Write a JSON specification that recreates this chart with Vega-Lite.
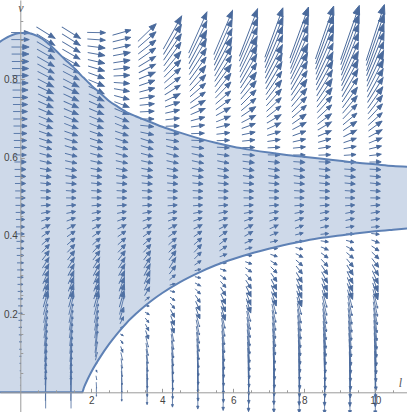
{
"$schema":"https://vega.github.io/schema/vega-lite/v6.json",
"width":407,"height":412,"padding":0,"autosize":{"type":"none"},
"config":{"view":{"stroke":null},"font":"Liberation Sans"},
"datasets":{
"field":[
{"l":0,"v":0,"a":0,"m":0},{"l":0,"v":0.018,"a":0,"m":0.4},{"l":0,"v":0.037,"a":0,"m":0.7},{"l":0,"v":0.055,"a":0,"m":1.1},{"l":0,"v":0.074,"a":0,"m":1.5},{"l":0,"v":0.092,"a":0,"m":1.8},{"l":0,"v":0.11,"a":0,"m":2.2},{"l":0,"v":0.129,"a":0,"m":2.6},{"l":0,"v":0.147,"a":0,"m":2.9},{"l":0,"v":0.166,"a":0,"m":3.3},{"l":0,"v":0.184,"a":0,"m":3.7},{"l":0,"v":0.202,"a":0,"m":4.1},{"l":0,"v":0.221,"a":0,"m":4.4},{"l":0,"v":0.239,"a":0,"m":4.8},{"l":0,"v":0.258,"a":0,"m":5.2},{"l":0,"v":0.276,"a":0,"m":5.5},{"l":0,"v":0.294,"a":0,"m":5.9},{"l":0,"v":0.313,"a":0,"m":6.3},{"l":0,"v":0.331,"a":0,"m":6.6},{"l":0,"v":0.35,"a":0,"m":7},{"l":0,"v":0.368,"a":0,"m":7.4},{"l":0,"v":0.386,"a":0,"m":7.7},{"l":0,"v":0.405,"a":0,"m":8.1},{"l":0,"v":0.423,"a":0,"m":8.5},{"l":0,"v":0.442,"a":0,"m":8.8},{"l":0,"v":0.46,"a":0,"m":9.2},{"l":0,"v":0.478,"a":0,"m":9.6},{"l":0,"v":0.497,"a":0,"m":9.9},{"l":0,"v":0.515,"a":0,"m":10.3},{"l":0,"v":0.534,"a":0,"m":10.7},{"l":0,"v":0.552,"a":0,"m":11},{"l":0,"v":0.57,"a":0,"m":11.4},{"l":0,"v":0.589,"a":0,"m":11.8},{"l":0,"v":0.607,"a":0,"m":12.1},{"l":0,"v":0.626,"a":0,"m":12.5},{"l":0,"v":0.644,"a":0,"m":12.9},{"l":0,"v":0.662,"a":0,"m":13.3},{"l":0,"v":0.681,"a":0,"m":13.6},{"l":0,"v":0.699,"a":0,"m":14},{"l":0,"v":0.718,"a":0,"m":14.4},{"l":0,"v":0.736,"a":0,"m":14.7},{"l":0,"v":0.754,"a":0,"m":15.1},{"l":0,"v":0.773,"a":0,"m":15.5},{"l":0,"v":0.791,"a":0,"m":15.8},{"l":0,"v":0.81,"a":0,"m":16.2},{"l":0,"v":0.828,"a":0,"m":16.6},{"l":0,"v":0.846,"a":0,"m":16.9},{"l":0,"v":0.865,"a":0,"m":17.3},{"l":0,"v":0.883,"a":0,"m":17.7},{"l":0,"v":0.902,"a":0,"m":18},{"l":0,"v":0.92,"a":0,"m":18.4},
{"l":0.714,"v":0,"a":-90,"m":32.3},{"l":0.714,"v":0.018,"a":-89,"m":31.1},{"l":0.714,"v":0.037,"a":-89,"m":29.9},{"l":0.714,"v":0.055,"a":-88,"m":28.7},{"l":0.714,"v":0.074,"a":-87,"m":27.5},{"l":0.714,"v":0.092,"a":-86,"m":26.4},{"l":0.714,"v":0.11,"a":-85,"m":25.2},{"l":0.714,"v":0.129,"a":-84,"m":23.9},{"l":0.714,"v":0.147,"a":-83,"m":22.8},{"l":0.714,"v":0.166,"a":-81,"m":21.7},{"l":0.714,"v":0.184,"a":-80,"m":20.5},{"l":0.714,"v":0.202,"a":-78,"m":19.4},{"l":0.714,"v":0.221,"a":-76,"m":18.3},{"l":0.714,"v":0.239,"a":-74,"m":17.3},{"l":0.714,"v":0.258,"a":-71,"m":16.1},{"l":0.714,"v":0.276,"a":-69,"m":15.1},{"l":0.714,"v":0.294,"a":-66,"m":14.2},{"l":0.714,"v":0.313,"a":-62,"m":13.3},{"l":0.714,"v":0.331,"a":-58,"m":12.4},{"l":0.714,"v":0.35,"a":-53,"m":11.6},{"l":0.714,"v":0.368,"a":-47,"m":10.9},{"l":0.714,"v":0.386,"a":-41,"m":10.3},{"l":0.714,"v":0.405,"a":-35,"m":9.8},{"l":0.714,"v":0.423,"a":-28,"m":9.5},{"l":0.714,"v":0.442,"a":-20,"m":9.4},{"l":0.714,"v":0.46,"a":-12,"m":9.4},{"l":0.714,"v":0.478,"a":-5,"m":9.6},{"l":0.714,"v":0.497,"a":1,"m":9.9},{"l":0.714,"v":0.515,"a":4,"m":10.3},{"l":0.714,"v":0.534,"a":6,"m":10.7},{"l":0.714,"v":0.552,"a":9,"m":11.2},{"l":0.714,"v":0.57,"a":11,"m":11.6},{"l":0.714,"v":0.589,"a":13,"m":12.1},{"l":0.714,"v":0.607,"a":15,"m":12.6},{"l":0.714,"v":0.626,"a":17,"m":13},{"l":0.714,"v":0.644,"a":18,"m":13.5},{"l":0.714,"v":0.662,"a":19,"m":14},{"l":0.714,"v":0.681,"a":21,"m":14.5},{"l":0.714,"v":0.699,"a":22,"m":15.1},{"l":0.714,"v":0.718,"a":23,"m":15.6},{"l":0.714,"v":0.736,"a":24,"m":16.1},{"l":0.714,"v":0.754,"a":25,"m":16.7},{"l":0.714,"v":0.773,"a":26,"m":17.2},{"l":0.714,"v":0.791,"a":27,"m":17.8},{"l":0.714,"v":0.81,"a":28,"m":18.3},{"l":0.714,"v":0.828,"a":29,"m":18.9},{"l":0.714,"v":0.846,"a":30,"m":19.5},{"l":0.714,"v":0.865,"a":30,"m":20},{"l":0.714,"v":0.883,"a":31,"m":20.6},{"l":0.714,"v":0.902,"a":32,"m":21.2},{"l":0.714,"v":0.92,"a":32,"m":21.8},
{"l":1.429,"v":0,"a":-90,"m":32.3},{"l":1.429,"v":0.018,"a":-89,"m":31.1},{"l":1.429,"v":0.037,"a":-89,"m":29.9},{"l":1.429,"v":0.055,"a":-88,"m":28.7},{"l":1.429,"v":0.074,"a":-87,"m":27.5},{"l":1.429,"v":0.092,"a":-86,"m":26.4},{"l":1.429,"v":0.11,"a":-85,"m":25.2},{"l":1.429,"v":0.129,"a":-84,"m":23.9},{"l":1.429,"v":0.147,"a":-83,"m":22.8},{"l":1.429,"v":0.166,"a":-81,"m":21.7},{"l":1.429,"v":0.184,"a":-80,"m":20.5},{"l":1.429,"v":0.202,"a":-78,"m":19.4},{"l":1.429,"v":0.221,"a":-76,"m":18.3},{"l":1.429,"v":0.239,"a":-74,"m":17.3},{"l":1.429,"v":0.258,"a":-71,"m":16.1},{"l":1.429,"v":0.276,"a":-69,"m":15.1},{"l":1.429,"v":0.294,"a":-66,"m":14.2},{"l":1.429,"v":0.313,"a":-62,"m":13.3},{"l":1.429,"v":0.331,"a":-58,"m":12.4},{"l":1.429,"v":0.35,"a":-53,"m":11.6},{"l":1.429,"v":0.368,"a":-47,"m":10.9},{"l":1.429,"v":0.386,"a":-41,"m":10.3},{"l":1.429,"v":0.405,"a":-35,"m":9.8},{"l":1.429,"v":0.423,"a":-28,"m":9.5},{"l":1.429,"v":0.442,"a":-20,"m":9.4},{"l":1.429,"v":0.46,"a":-12,"m":9.4},{"l":1.429,"v":0.478,"a":-5,"m":9.6},{"l":1.429,"v":0.497,"a":1,"m":9.9},{"l":1.429,"v":0.515,"a":4,"m":10.3},{"l":1.429,"v":0.534,"a":6,"m":10.7},{"l":1.429,"v":0.552,"a":9,"m":11.2},{"l":1.429,"v":0.57,"a":11,"m":11.6},{"l":1.429,"v":0.589,"a":13,"m":12.1},{"l":1.429,"v":0.607,"a":15,"m":12.6},{"l":1.429,"v":0.626,"a":17,"m":13},{"l":1.429,"v":0.644,"a":18,"m":13.5},{"l":1.429,"v":0.662,"a":19,"m":14},{"l":1.429,"v":0.681,"a":21,"m":14.5},{"l":1.429,"v":0.699,"a":22,"m":15.1},{"l":1.429,"v":0.718,"a":23,"m":15.6},{"l":1.429,"v":0.736,"a":24,"m":16.1},{"l":1.429,"v":0.754,"a":25,"m":16.7},{"l":1.429,"v":0.773,"a":26,"m":17.2},{"l":1.429,"v":0.791,"a":27,"m":17.8},{"l":1.429,"v":0.81,"a":28,"m":18.3},{"l":1.429,"v":0.828,"a":29,"m":18.9},{"l":1.429,"v":0.846,"a":30,"m":19.5},{"l":1.429,"v":0.865,"a":30,"m":20},{"l":1.429,"v":0.883,"a":31,"m":20.6},{"l":1.429,"v":0.902,"a":32,"m":21.2},{"l":1.429,"v":0.92,"a":32,"m":21.8},
{"l":2.143,"v":0,"a":90,"m":8.1},{"l":2.143,"v":0.018,"a":87,"m":6.2},{"l":2.143,"v":0.037,"a":80,"m":4.2},{"l":2.143,"v":0.055,"a":62,"m":2.4},{"l":2.143,"v":0.074,"a":0,"m":1.5},{"l":2.143,"v":0.092,"a":-77,"m":8.1},{"l":2.143,"v":0.11,"a":-82,"m":15.3},{"l":2.143,"v":0.129,"a":-83,"m":22.1},{"l":2.143,"v":0.147,"a":-83,"m":22.8},{"l":2.143,"v":0.166,"a":-81,"m":21.7},{"l":2.143,"v":0.184,"a":-80,"m":20.5},{"l":2.143,"v":0.202,"a":-78,"m":19.4},{"l":2.143,"v":0.221,"a":-76,"m":18.3},{"l":2.143,"v":0.239,"a":-74,"m":17.3},{"l":2.143,"v":0.258,"a":-71,"m":16.1},{"l":2.143,"v":0.276,"a":-69,"m":15.1},{"l":2.143,"v":0.294,"a":-66,"m":14.2},{"l":2.143,"v":0.313,"a":-62,"m":13.3},{"l":2.143,"v":0.331,"a":-58,"m":12.4},{"l":2.143,"v":0.35,"a":-53,"m":11.6},{"l":2.143,"v":0.368,"a":-47,"m":10.9},{"l":2.143,"v":0.386,"a":-41,"m":10.3},{"l":2.143,"v":0.405,"a":-35,"m":9.8},{"l":2.143,"v":0.423,"a":-28,"m":9.5},{"l":2.143,"v":0.442,"a":-20,"m":9.4},{"l":2.143,"v":0.46,"a":-12,"m":9.4},{"l":2.143,"v":0.478,"a":-5,"m":9.6},{"l":2.143,"v":0.497,"a":1,"m":9.9},{"l":2.143,"v":0.515,"a":4,"m":10.3},{"l":2.143,"v":0.534,"a":6,"m":10.7},{"l":2.143,"v":0.552,"a":9,"m":11.2},{"l":2.143,"v":0.57,"a":11,"m":11.6},{"l":2.143,"v":0.589,"a":13,"m":12.1},{"l":2.143,"v":0.607,"a":15,"m":12.6},{"l":2.143,"v":0.626,"a":17,"m":13},{"l":2.143,"v":0.644,"a":18,"m":13.5},{"l":2.143,"v":0.662,"a":19,"m":14},{"l":2.143,"v":0.681,"a":21,"m":14.5},{"l":2.143,"v":0.699,"a":22,"m":15.1},{"l":2.143,"v":0.718,"a":23,"m":15.6},{"l":2.143,"v":0.736,"a":24,"m":16.1},{"l":2.143,"v":0.754,"a":25,"m":16.7},{"l":2.143,"v":0.773,"a":26,"m":17.2},{"l":2.143,"v":0.791,"a":23,"m":17.2},{"l":2.143,"v":0.81,"a":20,"m":17.2},{"l":2.143,"v":0.828,"a":17,"m":17.3},{"l":2.143,"v":0.846,"a":13,"m":17.4},{"l":2.143,"v":0.865,"a":10,"m":17.6},{"l":2.143,"v":0.883,"a":7,"m":17.8},{"l":2.143,"v":0.902,"a":4,"m":18.1},{"l":2.143,"v":0.92,"a":1,"m":18.4},
{"l":2.857,"v":0,"a":90,"m":17.9},{"l":2.857,"v":0.018,"a":89,"m":15.9},{"l":2.857,"v":0.037,"a":87,"m":13.9},{"l":2.857,"v":0.055,"a":85,"m":12},{"l":2.857,"v":0.074,"a":82,"m":9.9},{"l":2.857,"v":0.092,"a":77,"m":8},{"l":2.857,"v":0.11,"a":69,"m":6.2},{"l":2.857,"v":0.129,"a":55,"m":4.5},{"l":2.857,"v":0.147,"a":32,"m":3.4},{"l":2.857,"v":0.166,"a":-18,"m":3.5},{"l":2.857,"v":0.184,"a":-63,"m":8},{"l":2.857,"v":0.202,"a":-72,"m":13},{"l":2.857,"v":0.221,"a":-76,"m":17.9},{"l":2.857,"v":0.239,"a":-74,"m":17.3},{"l":2.857,"v":0.258,"a":-71,"m":16.1},{"l":2.857,"v":0.276,"a":-69,"m":15.1},{"l":2.857,"v":0.294,"a":-66,"m":14.2},{"l":2.857,"v":0.313,"a":-62,"m":13.3},{"l":2.857,"v":0.331,"a":-58,"m":12.4},{"l":2.857,"v":0.35,"a":-53,"m":11.6},{"l":2.857,"v":0.368,"a":-47,"m":10.9},{"l":2.857,"v":0.386,"a":-41,"m":10.3},{"l":2.857,"v":0.405,"a":-35,"m":9.8},{"l":2.857,"v":0.423,"a":-28,"m":9.5},{"l":2.857,"v":0.442,"a":-20,"m":9.4},{"l":2.857,"v":0.46,"a":-12,"m":9.4},{"l":2.857,"v":0.478,"a":-5,"m":9.6},{"l":2.857,"v":0.497,"a":1,"m":9.9},{"l":2.857,"v":0.515,"a":4,"m":10.3},{"l":2.857,"v":0.534,"a":6,"m":10.7},{"l":2.857,"v":0.552,"a":9,"m":11.2},{"l":2.857,"v":0.57,"a":11,"m":11.6},{"l":2.857,"v":0.589,"a":13,"m":12.1},{"l":2.857,"v":0.607,"a":15,"m":12.6},{"l":2.857,"v":0.626,"a":17,"m":13},{"l":2.857,"v":0.644,"a":18,"m":13.5},{"l":2.857,"v":0.662,"a":19,"m":14},{"l":2.857,"v":0.681,"a":21,"m":14.5},{"l":2.857,"v":0.699,"a":22,"m":15.1},{"l":2.857,"v":0.718,"a":23,"m":15.6},{"l":2.857,"v":0.736,"a":21,"m":15.7},{"l":2.857,"v":0.754,"a":15,"m":15.6},{"l":2.857,"v":0.773,"a":10,"m":15.7},{"l":2.857,"v":0.791,"a":4,"m":15.9},{"l":2.857,"v":0.81,"a":-3,"m":16.2},{"l":2.857,"v":0.828,"a":-7,"m":16.7},{"l":2.857,"v":0.846,"a":-9,"m":17.1},{"l":2.857,"v":0.865,"a":-11,"m":17.6},{"l":2.857,"v":0.883,"a":-13,"m":18.1},{"l":2.857,"v":0.902,"a":-14,"m":18.6},{"l":2.857,"v":0.92,"a":-16,"m":19.1},
{"l":3.571,"v":0,"a":90,"m":24.8},{"l":3.571,"v":0.018,"a":89,"m":22.8},{"l":3.571,"v":0.037,"a":88,"m":20.7},{"l":3.571,"v":0.055,"a":87,"m":18.7},{"l":3.571,"v":0.074,"a":85,"m":16.8},{"l":3.571,"v":0.092,"a":83,"m":14.8},{"l":3.571,"v":0.11,"a":80,"m":12.9},{"l":3.571,"v":0.129,"a":76,"m":10.9},{"l":3.571,"v":0.147,"a":71,"m":9.1},{"l":3.571,"v":0.166,"a":63,"m":7.3},{"l":3.571,"v":0.184,"a":51,"m":5.8},{"l":3.571,"v":0.202,"a":32,"m":4.8},{"l":3.571,"v":0.221,"a":5,"m":4.4},{"l":3.571,"v":0.239,"a":-39,"m":6.1},{"l":3.571,"v":0.258,"a":-59,"m":9.9},{"l":3.571,"v":0.276,"a":-65,"m":13.2},{"l":3.571,"v":0.294,"a":-66,"m":14.2},{"l":3.571,"v":0.313,"a":-62,"m":13.3},{"l":3.571,"v":0.331,"a":-58,"m":12.4},{"l":3.571,"v":0.35,"a":-53,"m":11.6},{"l":3.571,"v":0.368,"a":-47,"m":10.9},{"l":3.571,"v":0.386,"a":-41,"m":10.3},{"l":3.571,"v":0.405,"a":-35,"m":9.8},{"l":3.571,"v":0.423,"a":-28,"m":9.5},{"l":3.571,"v":0.442,"a":-20,"m":9.4},{"l":3.571,"v":0.46,"a":-12,"m":9.4},{"l":3.571,"v":0.478,"a":-5,"m":9.6},{"l":3.571,"v":0.497,"a":1,"m":9.9},{"l":3.571,"v":0.515,"a":4,"m":10.3},{"l":3.571,"v":0.534,"a":6,"m":10.7},{"l":3.571,"v":0.552,"a":9,"m":11.2},{"l":3.571,"v":0.57,"a":11,"m":11.6},{"l":3.571,"v":0.589,"a":13,"m":12.1},{"l":3.571,"v":0.607,"a":15,"m":12.6},{"l":3.571,"v":0.626,"a":17,"m":13},{"l":3.571,"v":0.644,"a":18,"m":13.5},{"l":3.571,"v":0.662,"a":12,"m":13.6},{"l":3.571,"v":0.681,"a":6,"m":13.7},{"l":3.571,"v":0.699,"a":0,"m":14},{"l":3.571,"v":0.718,"a":-3,"m":14.4},{"l":3.571,"v":0.736,"a":-6,"m":14.8},{"l":3.571,"v":0.754,"a":-10,"m":15.3},{"l":3.571,"v":0.773,"a":-15,"m":16},{"l":3.571,"v":0.791,"a":-19,"m":16.7},{"l":3.571,"v":0.81,"a":-23,"m":17.6},{"l":3.571,"v":0.828,"a":-27,"m":18.6},{"l":3.571,"v":0.846,"a":-31,"m":19.7},{"l":3.571,"v":0.865,"a":-35,"m":21},{"l":3.571,"v":0.883,"a":-38,"m":22.4},{"l":3.571,"v":0.902,"a":-41,"m":23.8},{"l":3.571,"v":0.92,"a":-44,"m":25.5},
{"l":4.286,"v":0,"a":90,"m":29.7},{"l":4.286,"v":0.018,"a":89,"m":27.7},{"l":4.286,"v":0.037,"a":88,"m":25.6},{"l":4.286,"v":0.055,"a":87,"m":23.6},{"l":4.286,"v":0.074,"a":86,"m":21.6},{"l":4.286,"v":0.092,"a":85,"m":19.7},{"l":4.286,"v":0.11,"a":83,"m":17.7},{"l":4.286,"v":0.129,"a":81,"m":15.7},{"l":4.286,"v":0.147,"a":78,"m":13.8},{"l":4.286,"v":0.166,"a":74,"m":12},{"l":4.286,"v":0.184,"a":69,"m":10.2},{"l":4.286,"v":0.202,"a":62,"m":8.5},{"l":4.286,"v":0.221,"a":51,"m":7},{"l":4.286,"v":0.239,"a":35,"m":5.9},{"l":4.286,"v":0.258,"a":14,"m":5.3},{"l":4.286,"v":0.276,"a":-14,"m":5.7},{"l":4.286,"v":0.294,"a":-41,"m":7.9},{"l":4.286,"v":0.313,"a":-53,"m":10.5},{"l":4.286,"v":0.331,"a":-58,"m":12.4},{"l":4.286,"v":0.35,"a":-53,"m":11.6},{"l":4.286,"v":0.368,"a":-47,"m":10.9},{"l":4.286,"v":0.386,"a":-41,"m":10.3},{"l":4.286,"v":0.405,"a":-35,"m":9.8},{"l":4.286,"v":0.423,"a":-28,"m":9.5},{"l":4.286,"v":0.442,"a":-20,"m":9.4},{"l":4.286,"v":0.46,"a":-12,"m":9.4},{"l":4.286,"v":0.478,"a":-5,"m":9.6},{"l":4.286,"v":0.497,"a":1,"m":9.9},{"l":4.286,"v":0.515,"a":4,"m":10.3},{"l":4.286,"v":0.534,"a":6,"m":10.7},{"l":4.286,"v":0.552,"a":9,"m":11.2},{"l":4.286,"v":0.57,"a":11,"m":11.6},{"l":4.286,"v":0.589,"a":13,"m":12.1},{"l":4.286,"v":0.607,"a":15,"m":12.6},{"l":4.286,"v":0.626,"a":15,"m":12.9},{"l":4.286,"v":0.644,"a":10,"m":13.1},{"l":4.286,"v":0.662,"a":3,"m":13.3},{"l":4.286,"v":0.681,"a":-2,"m":13.6},{"l":4.286,"v":0.699,"a":-7,"m":14.1},{"l":4.286,"v":0.718,"a":-13,"m":14.7},{"l":4.286,"v":0.736,"a":-19,"m":15.6},{"l":4.286,"v":0.754,"a":-26,"m":16.7},{"l":4.286,"v":0.773,"a":-32,"m":18.2},{"l":4.286,"v":0.791,"a":-37,"m":19.9},{"l":4.286,"v":0.81,"a":-42,"m":21.9},{"l":4.286,"v":0.828,"a":-46,"m":24},{"l":4.286,"v":0.846,"a":-50,"m":26.4},{"l":4.286,"v":0.865,"a":-54,"m":29.1},{"l":4.286,"v":0.883,"a":-56,"m":31.8},{"l":4.286,"v":0.902,"a":-59,"m":34.8},{"l":4.286,"v":0.92,"a":-61,"m":37.9},
{"l":5,"v":0,"a":90,"m":33.6},{"l":5,"v":0.018,"a":89,"m":31.6},{"l":5,"v":0.037,"a":89,"m":29.5},{"l":5,"v":0.055,"a":88,"m":27.5},{"l":5,"v":0.074,"a":87,"m":25.5},{"l":5,"v":0.092,"a":86,"m":23.5},{"l":5,"v":0.11,"a":84,"m":21.6},{"l":5,"v":0.129,"a":82,"m":19.6},{"l":5,"v":0.147,"a":80,"m":17.6},{"l":5,"v":0.166,"a":78,"m":15.7},{"l":5,"v":0.184,"a":75,"m":13.8},{"l":5,"v":0.202,"a":70,"m":12},{"l":5,"v":0.221,"a":64,"m":10.2},{"l":5,"v":0.239,"a":56,"m":8.6},{"l":5,"v":0.258,"a":45,"m":7.3},{"l":5,"v":0.276,"a":30,"m":6.4},{"l":5,"v":0.294,"a":12,"m":6},{"l":5,"v":0.313,"a":-14,"m":6.4},{"l":5,"v":0.331,"a":-34,"m":8},{"l":5,"v":0.35,"a":-45,"m":9.8},{"l":5,"v":0.368,"a":-47,"m":10.9},{"l":5,"v":0.386,"a":-41,"m":10.3},{"l":5,"v":0.405,"a":-35,"m":9.8},{"l":5,"v":0.423,"a":-28,"m":9.5},{"l":5,"v":0.442,"a":-20,"m":9.4},{"l":5,"v":0.46,"a":-12,"m":9.4},{"l":5,"v":0.478,"a":-5,"m":9.6},{"l":5,"v":0.497,"a":1,"m":9.9},{"l":5,"v":0.515,"a":4,"m":10.3},{"l":5,"v":0.534,"a":6,"m":10.7},{"l":5,"v":0.552,"a":9,"m":11.2},{"l":5,"v":0.57,"a":11,"m":11.6},{"l":5,"v":0.589,"a":13,"m":12.1},{"l":5,"v":0.607,"a":13,"m":12.5},{"l":5,"v":0.626,"a":8,"m":12.6},{"l":5,"v":0.644,"a":2,"m":12.9},{"l":5,"v":0.662,"a":-2,"m":13.3},{"l":5,"v":0.681,"a":-8,"m":13.8},{"l":5,"v":0.699,"a":-15,"m":14.5},{"l":5,"v":0.718,"a":-23,"m":15.6},{"l":5,"v":0.736,"a":-29,"m":16.9},{"l":5,"v":0.754,"a":-36,"m":18.6},{"l":5,"v":0.773,"a":-41,"m":20.6},{"l":5,"v":0.791,"a":-46,"m":22.9},{"l":5,"v":0.81,"a":-51,"m":25.5},{"l":5,"v":0.828,"a":-54,"m":28.3},{"l":5,"v":0.846,"a":-57,"m":31.2},{"l":5,"v":0.865,"a":-60,"m":34.4},{"l":5,"v":0.883,"a":-62,"m":37.7},{"l":5,"v":0.902,"a":-64,"m":41.3},{"l":5,"v":0.92,"a":-66,"m":44.9},
{"l":5.714,"v":0,"a":90,"m":36.5},{"l":5.714,"v":0.018,"a":89,"m":34.5},{"l":5.714,"v":0.037,"a":89,"m":32.4},{"l":5.714,"v":0.055,"a":88,"m":30.5},{"l":5.714,"v":0.074,"a":87,"m":28.4},{"l":5.714,"v":0.092,"a":86,"m":26.5},{"l":5.714,"v":0.11,"a":85,"m":24.5},{"l":5.714,"v":0.129,"a":83,"m":22.4},{"l":5.714,"v":0.147,"a":82,"m":20.5},{"l":5.714,"v":0.166,"a":80,"m":18.6},{"l":5.714,"v":0.184,"a":77,"m":16.7},{"l":5.714,"v":0.202,"a":74,"m":14.8},{"l":5.714,"v":0.221,"a":70,"m":12.9},{"l":5.714,"v":0.239,"a":65,"m":11.2},{"l":5.714,"v":0.258,"a":58,"m":9.6},{"l":5.714,"v":0.276,"a":48,"m":8.3},{"l":5.714,"v":0.294,"a":36,"m":7.2},{"l":5.714,"v":0.313,"a":19,"m":6.6},{"l":5.714,"v":0.331,"a":1,"m":6.6},{"l":5.714,"v":0.35,"a":-22,"m":7.5},{"l":5.714,"v":0.368,"a":-33,"m":8.8},{"l":5.714,"v":0.386,"a":-38,"m":9.8},{"l":5.714,"v":0.405,"a":-35,"m":9.8},{"l":5.714,"v":0.423,"a":-28,"m":9.5},{"l":5.714,"v":0.442,"a":-20,"m":9.4},{"l":5.714,"v":0.46,"a":-12,"m":9.4},{"l":5.714,"v":0.478,"a":-5,"m":9.6},{"l":5.714,"v":0.497,"a":1,"m":9.9},{"l":5.714,"v":0.515,"a":4,"m":10.3},{"l":5.714,"v":0.534,"a":6,"m":10.7},{"l":5.714,"v":0.552,"a":9,"m":11.2},{"l":5.714,"v":0.57,"a":11,"m":11.6},{"l":5.714,"v":0.589,"a":12,"m":12},{"l":5.714,"v":0.607,"a":8,"m":12.3},{"l":5.714,"v":0.626,"a":3,"m":12.5},{"l":5.714,"v":0.644,"a":-2,"m":12.9},{"l":5.714,"v":0.662,"a":-7,"m":13.4},{"l":5.714,"v":0.681,"a":-14,"m":14.1},{"l":5.714,"v":0.699,"a":-22,"m":15.1},{"l":5.714,"v":0.718,"a":-29,"m":16.4},{"l":5.714,"v":0.736,"a":-36,"m":18.1},{"l":5.714,"v":0.754,"a":-41,"m":20},{"l":5.714,"v":0.773,"a":-46,"m":22.4},{"l":5.714,"v":0.791,"a":-51,"m":24.9},{"l":5.714,"v":0.81,"a":-54,"m":27.7},{"l":5.714,"v":0.828,"a":-57,"m":30.7},{"l":5.714,"v":0.846,"a":-60,"m":33.8},{"l":5.714,"v":0.865,"a":-62,"m":37.2},{"l":5.714,"v":0.883,"a":-64,"m":40.5},{"l":5.714,"v":0.902,"a":-66,"m":44.3},{"l":5.714,"v":0.92,"a":-67,"m":48},
{"l":6.429,"v":0,"a":90,"m":38.8},{"l":6.429,"v":0.018,"a":89,"m":36.8},{"l":6.429,"v":0.037,"a":89,"m":34.8},{"l":6.429,"v":0.055,"a":88,"m":32.8},{"l":6.429,"v":0.074,"a":87,"m":30.7},{"l":6.429,"v":0.092,"a":86,"m":28.8},{"l":6.429,"v":0.11,"a":85,"m":26.8},{"l":6.429,"v":0.129,"a":84,"m":24.7},{"l":6.429,"v":0.147,"a":83,"m":22.8},{"l":6.429,"v":0.166,"a":81,"m":20.9},{"l":6.429,"v":0.184,"a":79,"m":19},{"l":6.429,"v":0.202,"a":76,"m":17},{"l":6.429,"v":0.221,"a":73,"m":15.1},{"l":6.429,"v":0.239,"a":69,"m":13.3},{"l":6.429,"v":0.258,"a":64,"m":11.6},{"l":6.429,"v":0.276,"a":57,"m":10.1},{"l":6.429,"v":0.294,"a":48,"m":8.8},{"l":6.429,"v":0.313,"a":35,"m":7.7},{"l":6.429,"v":0.331,"a":20,"m":7},{"l":6.429,"v":0.35,"a":3,"m":7},{"l":6.429,"v":0.368,"a":-15,"m":7.6},{"l":6.429,"v":0.386,"a":-26,"m":8.6},{"l":6.429,"v":0.405,"a":-31,"m":9.5},{"l":6.429,"v":0.423,"a":-28,"m":9.5},{"l":6.429,"v":0.442,"a":-20,"m":9.4},{"l":6.429,"v":0.46,"a":-12,"m":9.4},{"l":6.429,"v":0.478,"a":-5,"m":9.6},{"l":6.429,"v":0.497,"a":1,"m":9.9},{"l":6.429,"v":0.515,"a":4,"m":10.3},{"l":6.429,"v":0.534,"a":6,"m":10.7},{"l":6.429,"v":0.552,"a":9,"m":11.2},{"l":6.429,"v":0.57,"a":11,"m":11.6},{"l":6.429,"v":0.589,"a":8,"m":11.9},{"l":6.429,"v":0.607,"a":4,"m":12.2},{"l":6.429,"v":0.626,"a":-1,"m":12.5},{"l":6.429,"v":0.644,"a":-6,"m":12.9},{"l":6.429,"v":0.662,"a":-12,"m":13.6},{"l":6.429,"v":0.681,"a":-20,"m":14.5},{"l":6.429,"v":0.699,"a":-27,"m":15.7},{"l":6.429,"v":0.718,"a":-34,"m":17.4},{"l":6.429,"v":0.736,"a":-40,"m":19.2},{"l":6.429,"v":0.754,"a":-45,"m":21.4},{"l":6.429,"v":0.773,"a":-50,"m":24},{"l":6.429,"v":0.791,"a":-54,"m":26.7},{"l":6.429,"v":0.81,"a":-57,"m":29.7},{"l":6.429,"v":0.828,"a":-60,"m":32.7},{"l":6.429,"v":0.846,"a":-62,"m":35.9},{"l":6.429,"v":0.865,"a":-64,"m":39.5},{"l":6.429,"v":0.883,"a":-66,"m":43},{"l":6.429,"v":0.902,"a":-67,"m":46.9},{"l":6.429,"v":0.92,"a":-69,"m":50.7},
{"l":7.143,"v":0,"a":90,"m":40.7},{"l":7.143,"v":0.018,"a":90,"m":38.7},{"l":7.143,"v":0.037,"a":89,"m":36.6},{"l":7.143,"v":0.055,"a":88,"m":34.7},{"l":7.143,"v":0.074,"a":87,"m":32.6},{"l":7.143,"v":0.092,"a":87,"m":30.7},{"l":7.143,"v":0.11,"a":86,"m":28.7},{"l":7.143,"v":0.129,"a":84,"m":26.6},{"l":7.143,"v":0.147,"a":83,"m":24.7},{"l":7.143,"v":0.166,"a":82,"m":22.6},{"l":7.143,"v":0.184,"a":80,"m":20.8},{"l":7.143,"v":0.202,"a":78,"m":18.9},{"l":7.143,"v":0.221,"a":75,"m":17},{"l":7.143,"v":0.239,"a":72,"m":15.2},{"l":7.143,"v":0.258,"a":67,"m":13.3},{"l":7.143,"v":0.276,"a":62,"m":11.7},{"l":7.143,"v":0.294,"a":55,"m":10.3},{"l":7.143,"v":0.313,"a":45,"m":8.9},{"l":7.143,"v":0.331,"a":33,"m":7.9},{"l":7.143,"v":0.35,"a":18,"m":7.3},{"l":7.143,"v":0.368,"a":2,"m":7.4},{"l":7.143,"v":0.386,"a":-13,"m":7.9},{"l":7.143,"v":0.405,"a":-22,"m":8.7},{"l":7.143,"v":0.423,"a":-25,"m":9.3},{"l":7.143,"v":0.442,"a":-20,"m":9.4},{"l":7.143,"v":0.46,"a":-12,"m":9.4},{"l":7.143,"v":0.478,"a":-5,"m":9.6},{"l":7.143,"v":0.497,"a":1,"m":9.9},{"l":7.143,"v":0.515,"a":4,"m":10.3},{"l":7.143,"v":0.534,"a":6,"m":10.7},{"l":7.143,"v":0.552,"a":9,"m":11.2},{"l":7.143,"v":0.57,"a":9,"m":11.6},{"l":7.143,"v":0.589,"a":6,"m":11.8},{"l":7.143,"v":0.607,"a":1,"m":12.1},{"l":7.143,"v":0.626,"a":-3,"m":12.5},{"l":7.143,"v":0.644,"a":-9,"m":13.1},{"l":7.143,"v":0.662,"a":-17,"m":13.8},{"l":7.143,"v":0.681,"a":-25,"m":15},{"l":7.143,"v":0.699,"a":-31,"m":16.4},{"l":7.143,"v":0.718,"a":-38,"m":18.1},{"l":7.143,"v":0.736,"a":-43,"m":20.2},{"l":7.143,"v":0.754,"a":-48,"m":22.6},{"l":7.143,"v":0.773,"a":-52,"m":25.3},{"l":7.143,"v":0.791,"a":-56,"m":28.1},{"l":7.143,"v":0.81,"a":-59,"m":31.2},{"l":7.143,"v":0.828,"a":-61,"m":34.4},{"l":7.143,"v":0.846,"a":-63,"m":37.7},{"l":7.143,"v":0.865,"a":-65,"m":41.4},{"l":7.143,"v":0.883,"a":-67,"m":44.9},{"l":7.143,"v":0.902,"a":-68,"m":48.8},{"l":7.143,"v":0.92,"a":-70,"m":52.7},
{"l":7.857,"v":0,"a":90,"m":42.2},{"l":7.857,"v":0.018,"a":90,"m":40.3},{"l":7.857,"v":0.037,"a":89,"m":38.2},{"l":7.857,"v":0.055,"a":88,"m":36.2},{"l":7.857,"v":0.074,"a":88,"m":34.1},{"l":7.857,"v":0.092,"a":87,"m":32.2},{"l":7.857,"v":0.11,"a":86,"m":30.2},{"l":7.857,"v":0.129,"a":85,"m":28.2},{"l":7.857,"v":0.147,"a":84,"m":26.3},{"l":7.857,"v":0.166,"a":82,"m":24.2},{"l":7.857,"v":0.184,"a":81,"m":22.3},{"l":7.857,"v":0.202,"a":79,"m":20.4},{"l":7.857,"v":0.221,"a":76,"m":18.4},{"l":7.857,"v":0.239,"a":73,"m":16.7},{"l":7.857,"v":0.258,"a":70,"m":14.8},{"l":7.857,"v":0.276,"a":65,"m":13.1},{"l":7.857,"v":0.294,"a":59,"m":11.5},{"l":7.857,"v":0.313,"a":51,"m":10},{"l":7.857,"v":0.331,"a":41,"m":8.8},{"l":7.857,"v":0.35,"a":28,"m":7.9},{"l":7.857,"v":0.368,"a":14,"m":7.6},{"l":7.857,"v":0.386,"a":-2,"m":7.7},{"l":7.857,"v":0.405,"a":-14,"m":8.3},{"l":7.857,"v":0.423,"a":-19,"m":8.9},{"l":7.857,"v":0.442,"a":-19,"m":9.4},{"l":7.857,"v":0.46,"a":-12,"m":9.4},{"l":7.857,"v":0.478,"a":-5,"m":9.6},{"l":7.857,"v":0.497,"a":1,"m":9.9},{"l":7.857,"v":0.515,"a":4,"m":10.3},{"l":7.857,"v":0.534,"a":6,"m":10.7},{"l":7.857,"v":0.552,"a":9,"m":11.2},{"l":7.857,"v":0.57,"a":8,"m":11.5},{"l":7.857,"v":0.589,"a":4,"m":11.8},{"l":7.857,"v":0.607,"a":0,"m":12.1},{"l":7.857,"v":0.626,"a":-6,"m":12.6},{"l":7.857,"v":0.644,"a":-13,"m":13.2},{"l":7.857,"v":0.662,"a":-20,"m":14.1},{"l":7.857,"v":0.681,"a":-28,"m":15.4},{"l":7.857,"v":0.699,"a":-35,"m":17},{"l":7.857,"v":0.718,"a":-41,"m":19},{"l":7.857,"v":0.736,"a":-46,"m":21.2},{"l":7.857,"v":0.754,"a":-50,"m":23.6},{"l":7.857,"v":0.773,"a":-54,"m":26.5},{"l":7.857,"v":0.791,"a":-57,"m":29.3},{"l":7.857,"v":0.81,"a":-60,"m":32.5},{"l":7.857,"v":0.828,"a":-62,"m":35.8},{"l":7.857,"v":0.846,"a":-64,"m":39.1},{"l":7.857,"v":0.865,"a":-66,"m":42.8},{"l":7.857,"v":0.883,"a":-68,"m":46.6},{"l":7.857,"v":0.902,"a":-69,"m":50.5},{"l":7.857,"v":0.92,"a":-70,"m":54.4},
{"l":8.571,"v":0,"a":90,"m":43.6},{"l":8.571,"v":0.018,"a":90,"m":41.6},{"l":8.571,"v":0.037,"a":89,"m":39.5},{"l":8.571,"v":0.055,"a":88,"m":37.5},{"l":8.571,"v":0.074,"a":88,"m":35.4},{"l":8.571,"v":0.092,"a":87,"m":33.5},{"l":8.571,"v":0.11,"a":86,"m":31.6},{"l":8.571,"v":0.129,"a":85,"m":29.5},{"l":8.571,"v":0.147,"a":84,"m":27.6},{"l":8.571,"v":0.166,"a":83,"m":25.5},{"l":8.571,"v":0.184,"a":81,"m":23.6},{"l":8.571,"v":0.202,"a":79,"m":21.7},{"l":8.571,"v":0.221,"a":77,"m":19.8},{"l":8.571,"v":0.239,"a":75,"m":17.9},{"l":8.571,"v":0.258,"a":71,"m":16},{"l":8.571,"v":0.276,"a":67,"m":14.3},{"l":8.571,"v":0.294,"a":62,"m":12.7},{"l":8.571,"v":0.313,"a":56,"m":11},{"l":8.571,"v":0.331,"a":47,"m":9.8},{"l":8.571,"v":0.35,"a":36,"m":8.7},{"l":8.571,"v":0.368,"a":23,"m":8},{"l":8.571,"v":0.386,"a":8,"m":7.8},{"l":8.571,"v":0.405,"a":-6,"m":8.1},{"l":8.571,"v":0.423,"a":-13,"m":8.7},{"l":8.571,"v":0.442,"a":-16,"m":9.2},{"l":8.571,"v":0.46,"a":-12,"m":9.4},{"l":8.571,"v":0.478,"a":-5,"m":9.6},{"l":8.571,"v":0.497,"a":1,"m":9.9},{"l":8.571,"v":0.515,"a":4,"m":10.3},{"l":8.571,"v":0.534,"a":6,"m":10.7},{"l":8.571,"v":0.552,"a":8,"m":11.1},{"l":8.571,"v":0.57,"a":6,"m":11.5},{"l":8.571,"v":0.589,"a":2,"m":11.8},{"l":8.571,"v":0.607,"a":-2,"m":12.2},{"l":8.571,"v":0.626,"a":-9,"m":12.7},{"l":8.571,"v":0.644,"a":-16,"m":13.4},{"l":8.571,"v":0.662,"a":-23,"m":14.4},{"l":8.571,"v":0.681,"a":-31,"m":15.9},{"l":8.571,"v":0.699,"a":-37,"m":17.5},{"l":8.571,"v":0.718,"a":-43,"m":19.6},{"l":8.571,"v":0.736,"a":-48,"m":22},{"l":8.571,"v":0.754,"a":-52,"m":24.6},{"l":8.571,"v":0.773,"a":-56,"m":27.5},{"l":8.571,"v":0.791,"a":-59,"m":30.4},{"l":8.571,"v":0.81,"a":-61,"m":33.7},{"l":8.571,"v":0.828,"a":-63,"m":37},{"l":8.571,"v":0.846,"a":-65,"m":40.4},{"l":8.571,"v":0.865,"a":-67,"m":44.2},{"l":8.571,"v":0.883,"a":-68,"m":48},{"l":8.571,"v":0.902,"a":-70,"m":52},{"l":8.571,"v":0.92,"a":-71,"m":56},
{"l":9.286,"v":0,"a":90,"m":44.4},{"l":9.286,"v":0.018,"a":90,"m":42.4},{"l":9.286,"v":0.037,"a":89,"m":40.4},{"l":9.286,"v":0.055,"a":88,"m":38.4},{"l":9.286,"v":0.074,"a":88,"m":36.3},{"l":9.286,"v":0.092,"a":87,"m":34.3},{"l":9.286,"v":0.11,"a":86,"m":32.4},{"l":9.286,"v":0.129,"a":85,"m":30.4},{"l":9.286,"v":0.147,"a":84,"m":28.5},{"l":9.286,"v":0.166,"a":83,"m":26.4},{"l":9.286,"v":0.184,"a":81,"m":24.5},{"l":9.286,"v":0.202,"a":80,"m":22.6},{"l":9.286,"v":0.221,"a":78,"m":20.6},{"l":9.286,"v":0.239,"a":75,"m":18.8},{"l":9.286,"v":0.258,"a":72,"m":16.9},{"l":9.286,"v":0.276,"a":69,"m":15.1},{"l":9.286,"v":0.294,"a":64,"m":13.5},{"l":9.286,"v":0.313,"a":58,"m":11.8},{"l":9.286,"v":0.331,"a":50,"m":10.4},{"l":9.286,"v":0.35,"a":40,"m":9.1},{"l":9.286,"v":0.368,"a":29,"m":8.4},{"l":9.286,"v":0.386,"a":15,"m":8},{"l":9.286,"v":0.405,"a":-1,"m":8.1},{"l":9.286,"v":0.423,"a":-9,"m":8.6},{"l":9.286,"v":0.442,"a":-13,"m":9.1},{"l":9.286,"v":0.46,"a":-12,"m":9.4},{"l":9.286,"v":0.478,"a":-5,"m":9.6},{"l":9.286,"v":0.497,"a":1,"m":9.9},{"l":9.286,"v":0.515,"a":4,"m":10.3},{"l":9.286,"v":0.534,"a":6,"m":10.7},{"l":9.286,"v":0.552,"a":7,"m":11.1},{"l":9.286,"v":0.57,"a":4,"m":11.4},{"l":9.286,"v":0.589,"a":0,"m":11.8},{"l":9.286,"v":0.607,"a":-4,"m":12.2},{"l":9.286,"v":0.626,"a":-11,"m":12.8},{"l":9.286,"v":0.644,"a":-19,"m":13.6},{"l":9.286,"v":0.662,"a":-27,"m":14.8},{"l":9.286,"v":0.681,"a":-34,"m":16.4},{"l":9.286,"v":0.699,"a":-40,"m":18.2},{"l":9.286,"v":0.718,"a":-46,"m":20.5},{"l":9.286,"v":0.736,"a":-50,"m":22.9},{"l":9.286,"v":0.754,"a":-54,"m":25.5},{"l":9.286,"v":0.773,"a":-57,"m":28.5},{"l":9.286,"v":0.791,"a":-60,"m":31.6},{"l":9.286,"v":0.81,"a":-62,"m":34.9},{"l":9.286,"v":0.828,"a":-64,"m":38.3},{"l":9.286,"v":0.846,"a":-66,"m":41.8},{"l":9.286,"v":0.865,"a":-68,"m":45.6},{"l":9.286,"v":0.883,"a":-69,"m":49.4},{"l":9.286,"v":0.902,"a":-70,"m":53.4},{"l":9.286,"v":0.92,"a":-71,"m":57.5},
{"l":10,"v":0,"a":90,"m":45.3},{"l":10,"v":0.018,"a":90,"m":43.3},{"l":10,"v":0.037,"a":89,"m":41.3},{"l":10,"v":0.055,"a":88,"m":39.3},{"l":10,"v":0.074,"a":88,"m":37.2},{"l":10,"v":0.092,"a":87,"m":35.2},{"l":10,"v":0.11,"a":86,"m":33.3},{"l":10,"v":0.129,"a":85,"m":31.2},{"l":10,"v":0.147,"a":84,"m":29.3},{"l":10,"v":0.166,"a":83,"m":27.3},{"l":10,"v":0.184,"a":82,"m":25.4},{"l":10,"v":0.202,"a":80,"m":23.5},{"l":10,"v":0.221,"a":78,"m":21.5},{"l":10,"v":0.239,"a":76,"m":19.6},{"l":10,"v":0.258,"a":73,"m":17.7},{"l":10,"v":0.276,"a":70,"m":16},{"l":10,"v":0.294,"a":66,"m":14.3},{"l":10,"v":0.313,"a":60,"m":12.6},{"l":10,"v":0.331,"a":53,"m":11.1},{"l":10,"v":0.35,"a":44,"m":9.8},{"l":10,"v":0.368,"a":33,"m":8.8},{"l":10,"v":0.386,"a":21,"m":8.3},{"l":10,"v":0.405,"a":6,"m":8.1},{"l":10,"v":0.423,"a":-5,"m":8.5},{"l":10,"v":0.442,"a":-10,"m":9},{"l":10,"v":0.46,"a":-10,"m":9.3},{"l":10,"v":0.478,"a":-5,"m":9.6},{"l":10,"v":0.497,"a":1,"m":9.9},{"l":10,"v":0.515,"a":4,"m":10.3},{"l":10,"v":0.534,"a":6,"m":10.7},{"l":10,"v":0.552,"a":5,"m":11.1},{"l":10,"v":0.57,"a":3,"m":11.4},{"l":10,"v":0.589,"a":-1,"m":11.8},{"l":10,"v":0.607,"a":-7,"m":12.2},{"l":10,"v":0.626,"a":-14,"m":12.9},{"l":10,"v":0.644,"a":-22,"m":13.9},{"l":10,"v":0.662,"a":-29,"m":15.2},{"l":10,"v":0.681,"a":-36,"m":16.9},{"l":10,"v":0.699,"a":-42,"m":18.8},{"l":10,"v":0.718,"a":-47,"m":21.1},{"l":10,"v":0.736,"a":-52,"m":23.6},{"l":10,"v":0.754,"a":-55,"m":26.3},{"l":10,"v":0.773,"a":-58,"m":29.4},{"l":10,"v":0.791,"a":-61,"m":32.5},{"l":10,"v":0.81,"a":-63,"m":36},{"l":10,"v":0.828,"a":-65,"m":39.4},{"l":10,"v":0.846,"a":-67,"m":42.9},{"l":10,"v":0.865,"a":-68,"m":46.8},{"l":10,"v":0.883,"a":-70,"m":50.6},{"l":10,"v":0.902,"a":-71,"m":54.8},{"l":10,"v":0.92,"a":-72,"m":58.9}
],
"curves":[{"l":-0.6,"hi":0.895,"lo":0},{"l":-0.3,"hi":0.911,"lo":0},{"l":0,"hi":0.919,"lo":0},{"l":0.25,"hi":0.918,"lo":0},{"l":0.5,"hi":0.91,"lo":0},{"l":0.75,"hi":0.895,"lo":0},{"l":1,"hi":0.874,"lo":0},{"l":1.25,"hi":0.852,"lo":0},{"l":1.5,"hi":0.831,"lo":0},{"l":1.74,"hi":0.808,"lo":0},{"l":1.8,"hi":0.803,"lo":0.014},{"l":1.9,"hi":0.794,"lo":0.034},{"l":2,"hi":0.785,"lo":0.052},{"l":2.25,"hi":0.765,"lo":0.09},{"l":2.5,"hi":0.745,"lo":0.123},{"l":2.75,"hi":0.73,"lo":0.152},{"l":3,"hi":0.716,"lo":0.178},{"l":3.25,"hi":0.706,"lo":0.2},{"l":3.5,"hi":0.697,"lo":0.22},{"l":3.75,"hi":0.688,"lo":0.238},{"l":4,"hi":0.679,"lo":0.254},{"l":4.5,"hi":0.664,"lo":0.282},{"l":5,"hi":0.65,"lo":0.305},{"l":5.5,"hi":0.638,"lo":0.325},{"l":6,"hi":0.628,"lo":0.341},{"l":6.5,"hi":0.62,"lo":0.355},{"l":7,"hi":0.613,"lo":0.367},{"l":7.5,"hi":0.607,"lo":0.378},{"l":8,"hi":0.602,"lo":0.387},{"l":8.5,"hi":0.597,"lo":0.395},{"l":9,"hi":0.592,"lo":0.401},{"l":9.5,"hi":0.587,"lo":0.407},{"l":10,"hi":0.583,"lo":0.412},{"l":10.5,"hi":0.579,"lo":0.416},{"l":10.9,"hi":0.577,"lo":0.419}]
},
"layer":[
{"data":{"name":"field"},"transform":[{"filter":"datum.v < 0.36 && abs(datum.a) >= 75"}],
 "mark":{"type":"point","shape":"M-1,0L0.88,0M1,0L0.82,-0.07L0.82,0.07Z","filled":true,"color":"#4a6a9c","fill":"#4a6a9c","stroke":"#4a6a9c","strokeWidth":0.8,"opacity":1},
 "encoding":{"x":{"field":"l","type":"quantitative","scale":{"domain":[-0.572,10.893],"nice":false,"zero":false},"axis":null},
  "y":{"field":"v","type":"quantitative","scale":{"domain":[-0.0504,1.0033],"nice":false,"zero":false},"axis":null},
  "angle":{"field":"a","type":"quantitative","scale":null},
  "size":{"field":"m","type":"quantitative","scale":{"type":"pow","exponent":2,"domain":[0,10],"range":[0,100]},"legend":null}}},
{"data":{"name":"field"},"transform":[{"filter":"(datum.v >= 0.36 || abs(datum.a) < 75) && datum.m < 7"}],
 "mark":{"type":"point","shape":"M-1,0L0.3,0M1,0L0.16,-0.34L0.16,0.34Z","filled":true,"color":"#4a6a9c","fill":"#4a6a9c","stroke":"#4a6a9c","strokeWidth":0.9,"opacity":1},
 "encoding":{"x":{"field":"l","type":"quantitative","axis":null},"y":{"field":"v","type":"quantitative","axis":null},
  "angle":{"field":"a","type":"quantitative","scale":null},
  "size":{"field":"m","type":"quantitative","legend":null}}},
{"data":{"name":"field"},"transform":[{"filter":"(datum.v >= 0.36 || abs(datum.a) < 75) && datum.m >= 7 && datum.m < 12"}],
 "mark":{"type":"point","shape":"M-1,0L0.4,0M1,0L0.2,-0.38L0.2,0.38Z","filled":true,"color":"#4a6a9c","fill":"#4a6a9c","stroke":"#4a6a9c","strokeWidth":0.9,"opacity":1},
 "encoding":{"x":{"field":"l","type":"quantitative","axis":null},"y":{"field":"v","type":"quantitative","axis":null},
  "angle":{"field":"a","type":"quantitative","scale":null},
  "size":{"field":"m","type":"quantitative","legend":null}}},
{"data":{"name":"field"},"transform":[{"filter":"(datum.v >= 0.36 || abs(datum.a) < 75) && datum.m >= 12 && datum.m < 18"}],
 "mark":{"type":"point","shape":"M-1,0L0.5,0M1,0L0.27,-0.29L0.27,0.29Z","filled":true,"color":"#4a6a9c","fill":"#4a6a9c","stroke":"#4a6a9c","strokeWidth":0.9,"opacity":1},
 "encoding":{"x":{"field":"l","type":"quantitative","axis":null},"y":{"field":"v","type":"quantitative","axis":null},
  "angle":{"field":"a","type":"quantitative","scale":null},
  "size":{"field":"m","type":"quantitative","legend":null}}},
{"data":{"name":"field"},"transform":[{"filter":"(datum.v >= 0.36 || abs(datum.a) < 75) && datum.m >= 18 && datum.m < 28"}],
 "mark":{"type":"point","shape":"M-1,0L0.6,0M1,0L0.43,-0.22L0.43,0.22Z","filled":true,"color":"#4a6a9c","fill":"#4a6a9c","stroke":"#4a6a9c","strokeWidth":0.9,"opacity":1},
 "encoding":{"x":{"field":"l","type":"quantitative","axis":null},"y":{"field":"v","type":"quantitative","axis":null},
  "angle":{"field":"a","type":"quantitative","scale":null},
  "size":{"field":"m","type":"quantitative","legend":null}}},
{"data":{"name":"field"},"transform":[{"filter":"(datum.v >= 0.36 || abs(datum.a) < 75) && datum.m >= 28 && datum.m < 40"}],
 "mark":{"type":"point","shape":"M-1,0L0.7,0M1,0L0.56,-0.165L0.56,0.165Z","filled":true,"color":"#4a6a9c","fill":"#4a6a9c","stroke":"#4a6a9c","strokeWidth":0.9,"opacity":1},
 "encoding":{"x":{"field":"l","type":"quantitative","axis":null},"y":{"field":"v","type":"quantitative","axis":null},
  "angle":{"field":"a","type":"quantitative","scale":null},
  "size":{"field":"m","type":"quantitative","legend":null}}},
{"data":{"name":"field"},"transform":[{"filter":"(datum.v >= 0.36 || abs(datum.a) < 75) && datum.m >= 40"}],
 "mark":{"type":"point","shape":"M-1,0L0.8,0M1,0L0.68,-0.12L0.68,0.12Z","filled":true,"color":"#4a6a9c","fill":"#4a6a9c","stroke":"#4a6a9c","strokeWidth":0.9,"opacity":1},
 "encoding":{"x":{"field":"l","type":"quantitative","axis":null},"y":{"field":"v","type":"quantitative","axis":null},
  "angle":{"field":"a","type":"quantitative","scale":null},
  "size":{"field":"m","type":"quantitative","legend":null}}},
{"data":{"name":"curves"},
 "mark":{"type":"area","color":"#5e81b5","opacity":0.3,"interpolate":"monotone"},
 "encoding":{"x":{"field":"l","type":"quantitative",
   "axis":{"orient":"bottom","offset":-19.7,"values":[2,4,6,8,10],"tickSize":-4,"labelPadding":7,"grid":false,"domainColor":"#9a9a9a","tickColor":"#9a9a9a","labelColor":"#444444","labelFontSize":10,"labelFont":"Liberation Sans","labelFlush":false,"labelOverlap":false,"zindex":1,
    "title":"l","titleFont":"Liberation Serif","titleFontStyle":"italic","titleFontWeight":"normal","titleColor":"#555555","titleFontSize":12,"titleX":400,"titleY":-3,"titleAlign":"center","titleBaseline":"bottom","titleAngle":0}},
  "y":{"field":"hi","type":"quantitative",
   "axis":{"orient":"left","offset":-20.3,"values":[0.2,0.4,0.6,0.8],"format":".1f","tickSize":-4,"labelPadding":7,"grid":false,"domainColor":"#9a9a9a","tickColor":"#9a9a9a","labelColor":"#444444","labelFontSize":10,"labelFont":"Liberation Sans","labelFlush":false,"labelOverlap":false,"zindex":1,
    "title":"v","titleFont":"Liberation Serif","titleFontStyle":"italic","titleFontWeight":"normal","titleColor":"#555555","titleFontSize":12,"titleX":0,"titleY":11,"titleAlign":"center","titleBaseline":"alphabetic","titleAngle":0}},
  "y2":{"field":"lo"}}},
{"data":{"name":"curves"},
 "mark":{"type":"line","color":"#5e81b5","strokeWidth":2,"interpolate":"monotone"},
 "encoding":{"x":{"field":"l","type":"quantitative",
   "axis":{"orient":"top","offset":-392.3,"values":[0.5,1,1.5,2.5,3,3.5,4.5,5,5.5,6.5,7,7.5,8.5,9,9.5,10.5],"tickSize":2.5,"labels":false,"domain":false,"grid":false,"tickColor":"#9a9a9a","title":null,"zindex":1}},
  "y":{"field":"hi","type":"quantitative",
   "axis":{"orient":"right","offset":-386.7,"values":[0.05,0.1,0.15,0.25,0.3,0.35,0.45,0.5,0.55,0.65,0.7,0.75,0.85,0.9,0.95],"tickSize":2.5,"labels":false,"domain":false,"grid":false,"tickColor":"#9a9a9a","title":null,"zindex":1}}}},
{"data":{"name":"curves"},
 "mark":{"type":"line","color":"#5e81b5","strokeWidth":2,"interpolate":"monotone"},
 "encoding":{"x":{"field":"l","type":"quantitative","axis":null},
  "y":{"field":"lo","type":"quantitative","axis":null}}}
],
"resolve":{"axis":{"x":"independent","y":"independent"}}
}
